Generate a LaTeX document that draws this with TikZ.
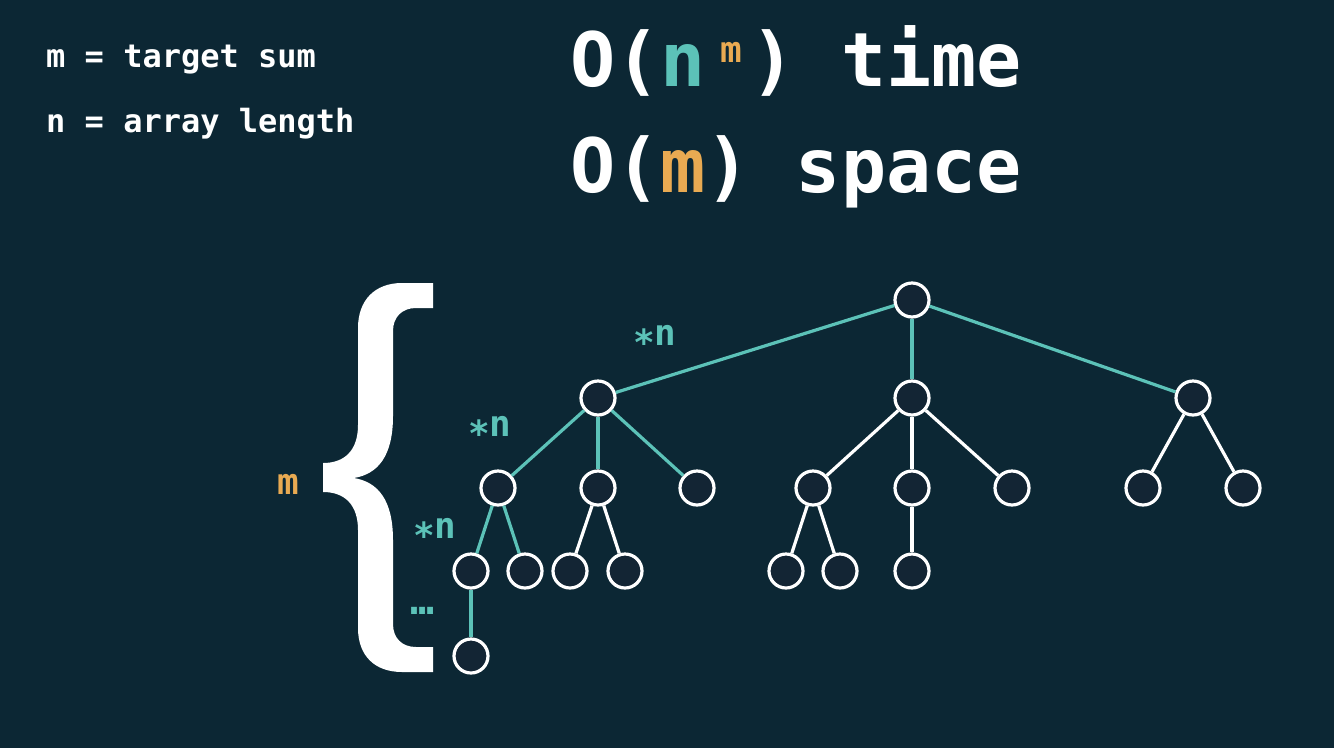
\documentclass[tikz,border=0pt]{standalone}
\usepackage{fontspec}
\setmainfont{DejaVu Sans Mono}
\definecolor{bg}{HTML}{0C2734}
\definecolor{myteal}{HTML}{5CC2B8}
\definecolor{myorange}{HTML}{E9AA52}
\definecolor{nodefill}{HTML}{132534}
\begin{document}
\begin{tikzpicture}[x=1pt,y=-1pt,
  tn/.style={circle,draw=white,line width=3.2pt,fill=nodefill,minimum size=34pt,inner sep=0pt},
  te/.style={draw=myteal,line width=3.2pt},
  we/.style={draw=white,line width=3.2pt},
  txt/.style={inner sep=0pt,anchor=base west,text=white,font=\bfseries},
  lab/.style={inner sep=0pt,anchor=base west,text=myteal,font=\bfseries\fontsize{36}{40}\selectfont}]
\fill[bg] (0,0) rectangle (1334,748);
\useasboundingbox (0,0) rectangle (1334,748);

% legend
\node[txt] (leg1) at (46,67) {\fontsize{32}{36}\selectfont m = target sum};
\node[txt] (leg2) at (46,132) {\fontsize{32}{36}\selectfont n = array length};

% complexity
\node[txt] (time) at (570,86) {\fontsize{75}{80}\selectfont O(\textcolor{myteal}{n}\ ) time};
\node[inner sep=0pt,anchor=base,text=myorange,font=\bfseries] (sup) at (731,62) {\fontsize{36}{40}\selectfont m};
\node[txt] (space) at (570,192) {\fontsize{75}{80}\selectfont O(\textcolor{myorange}{m}) space};

% brace
\fill[white] (433,283) -- (402,283) .. controls (375,283) and (358,300) .. (358,328)
  -- (358,425) .. controls (358,450) and (345,463) .. (323,463)
  -- (323,492) .. controls (345,492) and (358,505) .. (358,530)
  -- (358,628) .. controls (358,656) and (375,672) .. (402,672)
  -- (433,672) -- (433,647) -- (416,647) .. controls (402,647) and (393,638) .. (393,624)
  -- (393,540) .. controls (393,500) and (378,482) .. (354,478)
  .. controls (378,474) and (393,456) .. (393,416)
  -- (393,331) .. controls (393,317) and (402,308) .. (416,308)
  -- (433,308) -- cycle;
\node[inner sep=0pt,anchor=base west,text=myorange,font=\bfseries] (mlab) at (277,494) {\fontsize{36}{40}\selectfont m};

% labels
\node[lab] (n1) at (633,345) {\raisebox{-0.3em}{*}n};
\node[lab] (n2) at (468,436) {\raisebox{-0.3em}{*}n};
\node[lab] (n3) at (413,538) {\raisebox{-0.3em}{*}n};
\node[inner sep=0pt,text=myteal,font=\bfseries] (dots) at (423,611) {\fontsize{40}{42}\selectfont …};

% tree nodes
\node[tn] (r) at (912,300) {};
\node[tn] (a) at (598,398) {};
\node[tn] (b) at (912,398) {};
\node[tn] (c) at (1193,398) {};
\node[tn] (a1) at (498,488) {};
\node[tn] (a2) at (598,488) {};
\node[tn] (a3) at (697,488) {};
\node[tn] (b1) at (813,488) {};
\node[tn] (b2) at (912,488) {};
\node[tn] (b3) at (1012,488) {};
\node[tn] (c1) at (1143,488) {};
\node[tn] (c2) at (1243,488) {};
\node[tn] (a11) at (471,571) {};
\node[tn] (a12) at (525,571) {};
\node[tn] (a21) at (570,571) {};
\node[tn] (a22) at (625,571) {};
\node[tn] (b11) at (786,571) {};
\node[tn] (b12) at (840,571) {};
\node[tn] (b21) at (912,571) {};
\node[tn] (a111) at (471,656) {};

% edges
\draw[te] (r) -- (a);
\draw[te] (r) -- (b);
\draw[te] (r) -- (c);
\draw[te] (a) -- (a1);
\draw[te] (a) -- (a2);
\draw[te] (a) -- (a3);
\draw[te] (a1) -- (a11);
\draw[te] (a1) -- (a12);
\draw[te] (a11) -- (a111);
\draw[we] (a2) -- (a21);
\draw[we] (a2) -- (a22);
\draw[we] (b) -- (b1);
\draw[we] (b) -- (b2);
\draw[we] (b) -- (b3);
\draw[we] (b1) -- (b11);
\draw[we] (b1) -- (b12);
\draw[we] (b2) -- (b21);
\draw[we] (c) -- (c1);
\draw[we] (c) -- (c2);
\end{tikzpicture}
\end{document}
